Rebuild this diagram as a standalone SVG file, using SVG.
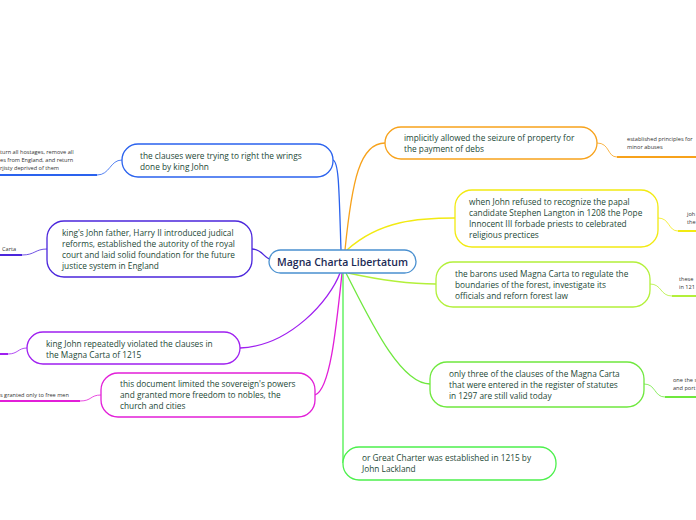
<svg xmlns="http://www.w3.org/2000/svg" width="696" height="520" viewBox="0 0 696 520">
<style>
.bg{fill:#ffffff}
.node{fill:#ffffff;stroke-width:1.3}
.t{font-family:"Open Sans","Noto Sans",sans-serif;font-size:8.3px;fill:#1c4836}
.c{font-family:"Open Sans","Noto Sans",sans-serif;font-size:10.5px;font-weight:600;fill:#1b2a55}
.leaf{font-family:"Open Sans","Noto Sans",sans-serif;font-size:5.6px;fill:#333333}
.con{fill:none;stroke-width:1.3}
.ul{fill:none;stroke-width:2}
.lc{fill:none;stroke-width:0.8}
</style>
<rect class="bg" x="0" y="0" width="696" height="520"/>
<g id="connectors">
  <path class="con" stroke="#2a62ee" d="M333 160 C339 162,339 190,341 250"/>
  <path class="con" stroke="#4b26dc" d="M252 249 C262 249,264 258,270 259"/>
  <path class="con" stroke="#9f1ff0" d="M240 348 C290 346,330 300,340 273"/>
  <path class="con" stroke="#e21fd8" d="M315 395 C330 390,336 330,342 273"/>
  <path class="con" stroke="#f7a21b" d="M345 250 C352 180,360 143,385 143"/>
  <path class="con" stroke="#f2ea12" d="M347 250 C380 220,420 218,455 218"/>
  <path class="con" stroke="#b3f03a" d="M348 273 C380 280,410 284,436 284"/>
  <path class="con" stroke="#6fe83e" d="M346 273 C370 320,400 384,430 384"/>
  <path class="con" stroke="#4cf04c" d="M343 273 L343 463"/>
  <!-- leaf links -->
  <path class="lc" stroke="#2a62ee" d="M97 175 C110 175,110 160,122 160"/>
  <path class="ul" stroke="#2a62ee" d="M0 175 L97 175"/>
  <path class="lc" stroke="#4b26dc" d="M22 255 C35 255,35 249,47 249"/>
  <path class="ul" stroke="#4b26dc" d="M0 255 L22 255"/>
  <path class="lc" stroke="#9f1ff0" d="M8 354 C18 354,18 348,27 348"/>
  <path class="ul" stroke="#9f1ff0" d="M0 354 L8 354"/>
  <path class="lc" stroke="#e21fd8" d="M80 401 C92 401,90 395,101 395"/>
  <path class="ul" stroke="#e21fd8" d="M0 401 L80 401"/>
  <path class="lc" stroke="#f7a21b" d="M597 143 C610 143,607 157,617 157"/>
  <path class="ul" stroke="#f7a21b" d="M617 157 L696 157"/>
  <path class="lc" stroke="#f2ea12" d="M658 218 C670 218,668 231,678 231"/>
  <path class="ul" stroke="#f2ea12" d="M678 231 L696 231"/>
  <path class="lc" stroke="#b3f03a" d="M650 284 C662 284,660 296,672 296"/>
  <path class="ul" stroke="#b3f03a" d="M672 296 L696 296"/>
  <path class="lc" stroke="#6fe83e" d="M644 384 C656 384,654 397,665 397"/>
  <path class="ul" stroke="#6fe83e" d="M665 397 L696 397"/>
</g>
<g id="center">
  <rect class="node" stroke="#4a90d0" x="269" y="250" width="147" height="23" rx="11.5"/>
  <text class="c" x="342.5" y="265.5" text-anchor="middle">Magna Charta Libertatum</text>
</g>
<g id="n1">
  <rect class="node" stroke="#2a62ee" x="122" y="144" width="211" height="33" rx="16"/>
  <text class="t" x="140" y="159">the clauses were trying to right the wrings</text>
  <text class="t" x="140" y="170">done by king John</text>
</g>
<g id="n2">
  <rect class="node" stroke="#4b26dc" x="47" y="221" width="205" height="56" rx="17"/>
  <text class="t" x="62" y="236">king's John father, Harry II introduced judical</text>
  <text class="t" x="62" y="247">reforms, established the autority of the royal</text>
  <text class="t" x="62" y="258">court and laid solid foundation for the future</text>
  <text class="t" x="62" y="269">justice system in England</text>
</g>
<g id="n3">
  <rect class="node" stroke="#9f1ff0" x="27" y="332" width="213" height="32" rx="16"/>
  <text class="t" x="46" y="347">king John repeatedly violated the clauses in</text>
  <text class="t" x="46" y="358">the Magna Carta of 1215</text>
</g>
<g id="n4">
  <rect class="node" stroke="#e21fd8" x="101" y="373" width="214" height="44" rx="17"/>
  <text class="t" x="120" y="387">this document limited the sovereign's powers</text>
  <text class="t" x="120" y="398">and granted more freedom to nobles, the</text>
  <text class="t" x="120" y="409">church and cities</text>
</g>
<g id="n5">
  <rect class="node" stroke="#f7a21b" x="385" y="127" width="212" height="32" rx="16"/>
  <text class="t" x="404" y="141">implicitly allowed the seizure of property for</text>
  <text class="t" x="404" y="152">the payment of debs</text>
</g>
<g id="n6">
  <rect class="node" stroke="#f2ea12" x="455" y="190" width="203" height="57" rx="17"/>
  <text class="t" x="469" y="205">when John refused to recognize the papal</text>
  <text class="t" x="469" y="216">candidate Stephen Langton in 1208 the Pope</text>
  <text class="t" x="469" y="227">Innocent III forbade priests to celebrated</text>
  <text class="t" x="469" y="238">religious prectices</text>
</g>
<g id="n7">
  <rect class="node" stroke="#b3f03a" x="436" y="262" width="214" height="45" rx="17"/>
  <text class="t" x="455" y="277">the barons used Magna Carta to regulate the</text>
  <text class="t" x="455" y="288">boundaries of the forest, investigate its</text>
  <text class="t" x="455" y="299">officials and reforn forest law</text>
</g>
<g id="n8">
  <rect class="node" stroke="#6fe83e" x="430" y="362" width="214" height="45" rx="17"/>
  <text class="t" x="449" y="377">only three of the clauses of the Magna Carta</text>
  <text class="t" x="449" y="388">that were entered in the register of statutes</text>
  <text class="t" x="449" y="399">in 1297 are still valid today</text>
</g>
<g id="n9">
  <rect class="node" stroke="#4cf04c" x="343" y="447" width="213" height="33" rx="16"/>
  <text class="t" x="362" y="461">or Great Charter was established in 1215 by</text>
  <text class="t" x="362" y="472">John Lackland</text>
</g>
<g id="leaves">
  <text class="leaf" x="0" y="154">turn all hostages, remove all</text>
  <text class="leaf" x="0" y="162">es from England, and return</text>
  <text class="leaf" x="0" y="170">rjisty deprived of them</text>
  <text class="leaf" x="2" y="251">Carta</text>
  <text class="leaf" x="0" y="397">s granted only to free men</text>
  <text class="leaf" x="627" y="141">established principles for</text>
  <text class="leaf" x="627" y="149">minor abuses</text>
  <text class="leaf" x="687" y="216">joh</text>
  <text class="leaf" x="687" y="224">the</text>
  <text class="leaf" x="679" y="281">these</text>
  <text class="leaf" x="679" y="289">in 121</text>
  <text class="leaf" x="673" y="382">one the s</text>
  <text class="leaf" x="673" y="390">and port</text>
</g>
</svg>
